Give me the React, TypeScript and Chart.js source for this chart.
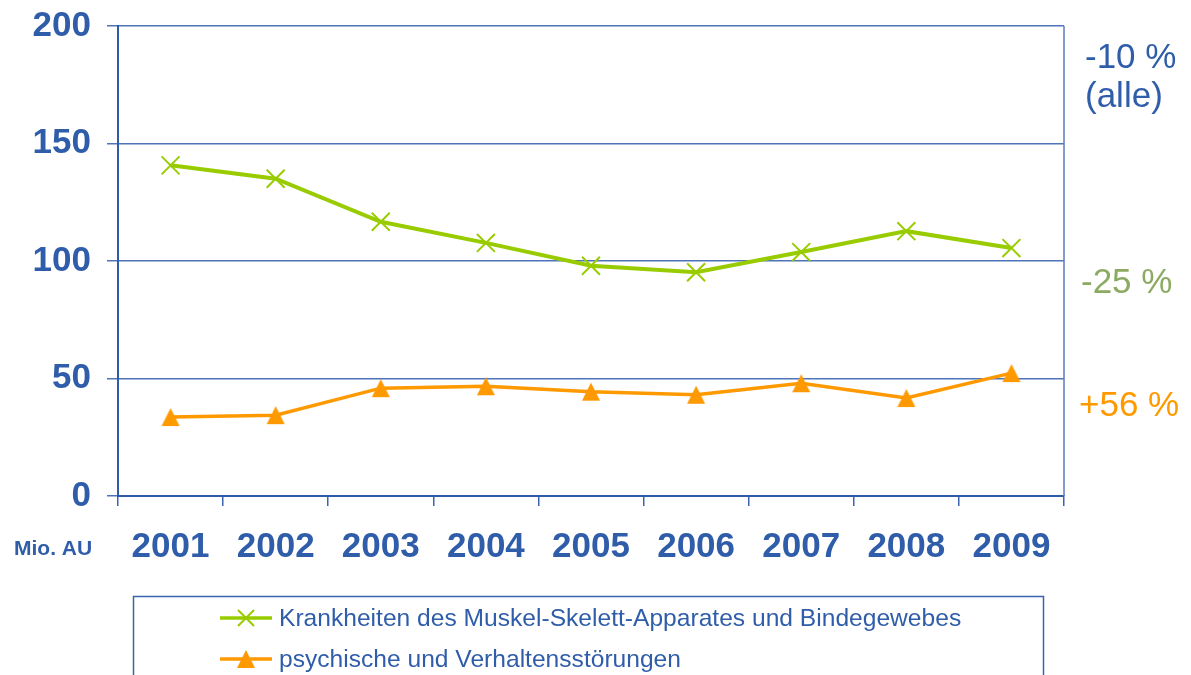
import React, { useEffect, useRef } from "react";
import { Chart, registerables } from "chart.js";

Chart.register(...registerables);

const years = ["2001", "2002", "2003", "2004", "2005", "2006", "2007", "2008", "2009"];
const muskelSkelett = [140.7, 135, 116.7, 107.7, 98, 95.2, 103.8, 112.7, 105.5];
const psychisch = [33.6, 34.4, 45.9, 46.7, 44.4, 43.1, 48, 41.7, 52.3];
const yTicks = [0, 50, 100, 150, 200];
const seriesLabels = [
  "Krankheiten des Muskel-Skelett-Apparates und Bindegewebes",
  "psychische und Verhaltensstörungen",
];
const sideNotes = [
  { lines: ["-10 %", "(alle)"], color: "#2F5DA9" },
  { lines: ["-25 %"], color: "#8BAA62" },
  { lines: ["+56 %"], color: "#FF9900" },
];

const BLUE = "#2F5DA9";
const GREEN = "#99CC00";
const ORANGE = "#FF9900";
const FONT = "'Liberation Sans', Arial, sans-serif";

function makeTriangle(w: number, h: number, color: string) {
  const c = document.createElement("canvas");
  c.width = w + 2;
  c.height = h + 2;
  const ctx = c.getContext("2d")!;
  ctx.fillStyle = color;
  ctx.beginPath();
  ctx.moveTo((w + 2) / 2, 1);
  ctx.lineTo(w + 1, h + 1);
  ctx.lineTo(1, h + 1);
  ctx.closePath();
  ctx.fill();
  return c;
}

export default function App() {
  const ref = useRef<HTMLCanvasElement>(null);

  useEffect(() => {
    const tri = makeTriangle(18, 18, ORANGE);

    const decor = {
      id: "decor",
      afterDraw(chart: any) {
        const ctx = chart.ctx;
        const a = chart.chartArea;
        ctx.save();
        // right border
        ctx.strokeStyle = "#5A7DC0";
        ctx.lineWidth = 1.5;
        ctx.beginPath();
        ctx.moveTo(a.right, a.top);
        ctx.lineTo(a.right, a.bottom);
        ctx.stroke();

        // side notes
        ctx.font = `35px ${FONT}`;
        ctx.textAlign = "left";
        ctx.textBaseline = "alphabetic";
        const notePos = [
          { x: 1085, y: 68 },
          { x: 1081, y: 293 },
          { x: 1079, y: 416 },
        ];
        sideNotes.forEach((n, i) => {
          ctx.fillStyle = n.color;
          n.lines.forEach((ln, j) => {
            ctx.fillText(ln, notePos[i].x, notePos[i].y + j * 39);
          });
        });

        // unit label
        ctx.font = `bold 21px ${FONT}`;
        ctx.fillStyle = BLUE;
        ctx.fillText("Mio. AU", 14, 555);

        // legend box
        ctx.strokeStyle = "#3A64B0";
        ctx.lineWidth = 1.5;
        ctx.strokeRect(133.5, 596.5, 910, 120);

        const rows = [
          { y: 618, base: 626 },
          { y: 659, base: 667 },
        ];
        ctx.font = `24.6px ${FONT}`;
        chart.data.datasets.forEach((ds: any, i: number) => {
          const r = rows[i];
          ctx.strokeStyle = ds.borderColor;
          ctx.lineWidth = 3.5;
          ctx.beginPath();
          ctx.moveTo(220, r.y);
          ctx.lineTo(272, r.y);
          ctx.stroke();
          if (i === 0) {
            ctx.lineWidth = 2;
            ctx.beginPath();
            ctx.moveTo(238, r.y - 8);
            ctx.lineTo(254, r.y + 8);
            ctx.moveTo(254, r.y - 8);
            ctx.lineTo(238, r.y + 8);
            ctx.stroke();
          } else {
            ctx.drawImage(tri, 246 - tri.width / 2, r.y - tri.height / 2);
          }
          ctx.fillStyle = BLUE;
          ctx.fillText(ds.label, 279, r.base);
        });
        ctx.restore();
      },
    };

    const chart = new Chart(ref.current!, {
      type: "line",
      data: {
        labels: years,
        datasets: [
          {
            label: seriesLabels[0],
            data: muskelSkelett,
            borderColor: GREEN,
            backgroundColor: GREEN,
            borderWidth: 4,
            pointStyle: "crossRot",
            pointRadius: 12.7,
            pointBorderWidth: 2,
            pointBorderColor: GREEN,
            tension: 0,
          },
          {
            label: seriesLabels[1],
            data: psychisch,
            borderColor: ORANGE,
            backgroundColor: ORANGE,
            borderWidth: 3.5,
            pointStyle: tri as any,
            pointRadius: 10,
            tension: 0,
          },
        ],
      },
      options: {
        animation: false,
        responsive: false,
        events: [],
        layout: { padding: { top: 26, right: 127, left: 0, bottom: 0 } },
        plugins: {
          legend: { display: false },
          tooltip: { enabled: false },
        },
        scales: {
          x: {
            offset: true,
            grid: {
              offset: true,
              drawOnChartArea: false,
              drawTicks: true,
              tickLength: 10,
              color: "#3A64B0",
              lineWidth: 1.5,
            },
            border: { display: true, color: "#2E5AA8", width: 2 },
            ticks: {
              color: BLUE,
              font: { family: FONT, size: 35, weight: "bold" },
              padding: 20,
              maxRotation: 0,
              autoSkip: false,
            },
            afterFit(scale: any) {
              scale.height = 179;
              scale.paddingLeft = 0;
              scale.paddingRight = 0;
            },
          },
          y: {
            min: 0,
            max: 200,
            afterBuildTicks(scale: any) {
              scale.ticks = yTicks.map((v) => ({ value: v }));
            },
            grid: {
              color: "#4F73B8",
              lineWidth: 1.5,
              tickLength: 11,
              drawTicks: true,
            },
            border: { display: true, color: "#2E5AA8", width: 2 },
            ticks: {
              color: BLUE,
              font: { family: FONT, size: 35, weight: "bold" },
              padding: 16,
            },
            afterFit(scale: any) {
              scale.width = 118;
              scale.paddingTop = 0;
              scale.paddingBottom = 0;
            },
          },
        },
      },
      plugins: [decor],
    });
    return () => chart.destroy();
  }, []);

  return (
    <div style={{ position: "fixed", left: 0, top: 0, width: 1191, height: 675, background: "#fff" }}>
      <canvas ref={ref} width={1191} height={675} style={{ width: 1191, height: 675 }} />
    </div>
  );
}
